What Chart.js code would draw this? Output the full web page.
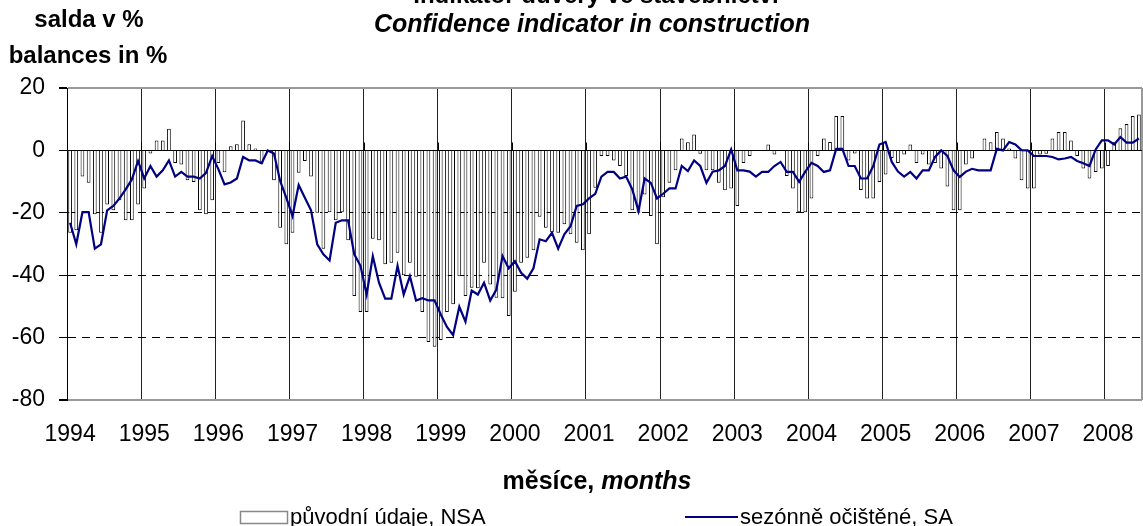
<!DOCTYPE html>
<html>
<head>
<meta charset="utf-8">
<script src="https://cdn.jsdelivr.net/npm/chart.js@4.4.1/dist/chart.umd.min.js"></script>
<style>
  body { margin: 0; background: #fff; }
  canvas { display: block; }
</style>
</head>
<body>
<canvas id="chart" width="1143" height="526"></canvas>
<script>
// Texts
var titleCs = "Indikátor důvěry ve stavebnictví";
var titleEn = "Confidence indicator in construction";
var unitCs = "salda v %";
var unitEn = "balances in %";
var xTitleCs = "měsíce, ";
var xTitleEn = "months";
var seriesNames = ["původní údaje, NSA", "sezónně očištěné, SA"];

// Years on the axis, the last one has only 6 months
var years = ["1994", "1995", "1996", "1997", "1998", "1999", "2000", "2001",
  "2002", "2003", "2004", "2005", "2006", "2007", "2008"];
var monthsInLastYear = 6;

// Original data (NSA), monthly from 1994-01
var nsa = [
  -26.4, -25.6, -8.4, -10.4, -20.5, -26.4, -17.3, -19.2, -16, -22.4, -22.4, -17.3,
  -12.2, -1, 3.2, 3.2, 6.9, -4, -4.5, -9.6, -10.1, -19.2, -20.5, -16,
  -4, -7, 1.3, 2, 9.6, 2, 0.6, -4.3, -0.5, -9.6, -24.8, -30.1,
  -26.4, -7.2, -3.4, -8.4, -20, -31.5, -19.8, -22.4, -19.8, -28.8, -46.7, -51.8,
  -51.8, -28.3, -28.8, -36.5, -36, -32.8, -40, -36, -40.5, -51.8, -61.4, -62.9,
  -60.8, -51.8, -49.3, -40.3, -46.7, -44, -44.2, -36, -43, -47.2, -47.4, -53.1,
  -45.3, -36, -34.4, -32, -21.3, -24.8, -26.2, -26.4, -23.7, -26.9, -29.6, -32,
  -26.9, -12, -1.8, -1.8, -3.2, -5, -8.2, -19.2, -20, -14.1, -21, -30.1,
  -15, -10.4, -6.4, 3.8, 2.6, 5.1, -1.1, -6.4, -6.4, -10.4, -12.8, -12.2,
  -17.8, -4, -1.8, 0, 0, 1.9, -1.3, 0, -8.2, -12.2, -19.8, -19.8,
  -15.4, -1.8, 3.8, 2.7, 11, 11, -3.2, -1, -12.7, -15.4, -15.4, -10.1,
  -7.7, -2.4, -4, -1.3, 1.9, -4, -1.3, -4.5, -4, -5.8, -11.6, -19.2,
  -19.2, -4.5, -2.6, 0, 3.8, 2.6, 5.9, 3.8, 0.6, -2.6, -9.6, -12.2,
  -12.2, -1.3, -1.1, 3.8, 5.9, 5.9, 3.2, -1.8, -5.8, -9, -6.9, -5.8,
  -5, 2.8, 7.1, 8.5, 11, 11.5
];

// Seasonally adjusted (SA)
var sa = [
  -23.2, -30.1, -19.8, -19.8, -31.5, -30.1, -19.2, -17.8, -15.4, -12.5, -9.3, -3.4,
  -9, -5, -8.4, -6.4, -3.2, -8.4, -6.9, -8.4, -8.4, -9, -7.2, -1.8,
  -6, -10.9, -10.3, -9, -2.1, -3.2, -3.2, -4.1, 0, -1, -9.8, -15.2,
  -21, -11.1, -15.2, -19.2, -30.1, -33.3, -35.3, -23.2, -22.4, -22.4, -33.3, -37,
  -46.2, -33.9, -42.4, -47.5, -47.5, -37, -46.2, -40.3, -48.1, -47.4, -48.1, -48.1,
  -52.6, -56.6, -59.2, -50.1, -54.9, -44.9, -46.2, -42.4, -48.1, -44.6, -33.9, -37.8,
  -35.5, -39.2, -41.1, -37.8, -28.5, -29.1, -26.4, -31.5, -26.9, -24.3, -17.8, -17.3,
  -15.4, -13.9, -8.4, -6.9, -6.9, -9, -8.4, -12.5, -19.4, -9, -10.4, -15.4,
  -13.9, -12.2, -12.2, -5, -6.6, -3.2, -5, -10.4, -6.8, -6.4, -5, 0.3,
  -6.4, -6.4, -6.8, -8.4, -6.9, -6.9, -5, -3.7, -6.9, -6.9, -10.1, -6.8,
  -4, -5, -6.9, -6.4, 0.5, 0.5, -5, -5, -9, -9, -5, 1.9,
  2.7, -3.7, -6.8, -8.4, -6.9, -9, -6.4, -6.4, -2.1, 0, -1.8, -6.4,
  -8.5, -6.8, -5.9, -6.4, -6.4, -6.4, 0.5, 0, 2.7, 1.9, 0.1, 0,
  -1.8, -1.8, -1.8, -2.1, -2.9, -2.6, -2.1, -3.4, -4.1, -5, 0.3, 3.2,
  3.2, 1.9, 4.3, 2.5, 2.5, 3.8
];

var labels = [];
for (var y = 0; y < years.length; y++) {
  var n = y === years.length - 1 ? monthsInLastYear : 12;
  for (var m = 1; m <= n; m++) {
    labels.push(years[y] + "-" + (m < 10 ? "0" : "") + m);
  }
}

var FONT = '"Liberation Sans", Arial, Helvetica, sans-serif';
Chart.defaults.font.family = FONT;
Chart.defaults.color = "#000";

var decorations = {
  id: "decorations",
  afterDatasetDraw: function (chart, args) {
    if (args.index !== 0) return;
    // zero axis line on top of the bars, with small year ticks
    var ctx = chart.ctx, area = chart.chartArea, xs = chart.scales.x;
    var y0 = Math.round(chart.scales.y.getPixelForValue(0)) + 0.5;
    ctx.save();
    ctx.strokeStyle = "#000";
    ctx.lineWidth = 1;
    ctx.beginPath();
    ctx.moveTo(area.left, y0);
    ctx.lineTo(area.right, y0);
    for (var i = 12; i < labels.length; i += 12) {
      var px = Math.round((xs.getPixelForValue(i - 1) + xs.getPixelForValue(i)) / 2) + 0.5;
      ctx.moveTo(px, y0);
      ctx.lineTo(px, y0 - 8);
    }
    ctx.stroke();
    ctx.restore();
  },
  afterDraw: function (chart) {
    var ctx = chart.ctx;
    ctx.save();
    ctx.fillStyle = "#000";
    ctx.textBaseline = "alphabetic";
    ctx.textAlign = "center";

    ctx.font = "bold 24px " + FONT;
    ctx.fillText(titleCs, 596, 3);
    ctx.font = "italic bold 25px " + FONT;
    ctx.fillText(titleEn, 592, 32);

    ctx.font = "bold 24px " + FONT;
    ctx.fillText(unitCs, 89, 27);
    ctx.fillText(unitEn, 88, 63);

    // x axis title: bold + bold italic
    ctx.textAlign = "left";
    ctx.font = "bold 25px " + FONT;
    var w1 = ctx.measureText(xTitleCs).width;
    ctx.font = "italic bold 25px " + FONT;
    var w2 = ctx.measureText(xTitleEn).width;
    var sx = 597 - (w1 + w2) / 2;
    ctx.font = "bold 25px " + FONT;
    ctx.fillText(xTitleCs, sx, 489);
    ctx.font = "italic bold 25px " + FONT;
    ctx.fillText(xTitleEn, sx + w1, 489);

    // legend
    ctx.font = "22px " + FONT;
    ctx.fillStyle = "#fff";
    ctx.strokeStyle = "#888";
    ctx.lineWidth = 1.5;
    ctx.fillRect(240.5, 511.5, 47, 12);
    ctx.strokeRect(240.5, 511.5, 47, 12);
    ctx.fillStyle = "#000";
    ctx.fillText(seriesNames[0], 290, 524);

    ctx.strokeStyle = "#000080";
    ctx.lineWidth = 2;
    ctx.beginPath();
    ctx.moveTo(685, 517);
    ctx.lineTo(738, 517);
    ctx.stroke();
    ctx.fillText(seriesNames[1], 740, 524);
    ctx.restore();
  }
};

new Chart(document.getElementById("chart"), {
  type: "bar",
  data: {
    labels: labels,
    datasets: [
      {
        type: "bar",
        label: seriesNames[0],
        data: nsa,
        backgroundColor: "#fff",
        borderColor: "#000",
        borderWidth: 1,
        barPercentage: 0.6,
        categoryPercentage: 1.0,
        order: 2
      },
      {
        type: "line",
        label: seriesNames[1],
        data: sa,
        borderColor: "#000080",
        borderWidth: 2.2,
        pointRadius: 0,
        tension: 0,
        fill: false,
        order: 1
      }
    ]
  },
  options: {
    responsive: false,
    animation: false,
    layout: { padding: { top: 88, right: 1, left: 0, bottom: 0 } },
    plugins: {
      legend: { display: false },
      title: { display: false },
      tooltip: { enabled: false }
    },
    scales: {
      x: {
        afterFit: function (s) {
          s.height = 126;
          s.paddingLeft = 0;
          s.paddingRight = 0;
        },
        ticks: {
          autoSkip: false,
          maxRotation: 0,
          minRotation: 0,
          padding: 21,
          font: { size: 23 },
          color: "#000",
          callback: function (v, i) { return i % 12 === 0 ? years[i / 12] : ""; }
        },
        grid: {
          offset: true,
          drawTicks: false,
          color: function (c) {
            if (c.index === undefined) return "#999";
            return c.index % 12 === 0 && c.index > 0 ? "#222" : "rgba(0,0,0,0)";
          },
          lineWidth: function (c) { return c.index === undefined ? 2 : 1; }
        },
        border: { display: false }
      },
      y: {
        min: -80,
        max: 20,
        afterFit: function (s) { s.width = 67; },
        ticks: {
          stepSize: 20,
          padding: 14,
          font: { size: 23 },
          color: "#000"
        },
        grid: {
          tickLength: 8,
          tickColor: "#000",
          color: function (c) {
            if (!c.tick) return "#000";
            return (c.tick.value === 20 || c.tick.value === -80) ? "#999" : "#000";
          },
          lineWidth: function (c) {
            if (!c.tick) return 1;
            return (c.tick.value === 20 || c.tick.value === -80) ? 2 : 1;
          }
        },
        border: {
          display: true,
          color: "#000",
          width: 1,
          dash: function (c) {
            if (!c.tick) return [];
            var v = c.tick.value;
            return (v === -20 || v === -40 || v === -60) ? [8, 6] : [];
          }
        }
      }
    }
  },
  plugins: [decorations]
});
</script>
</body>
</html>
